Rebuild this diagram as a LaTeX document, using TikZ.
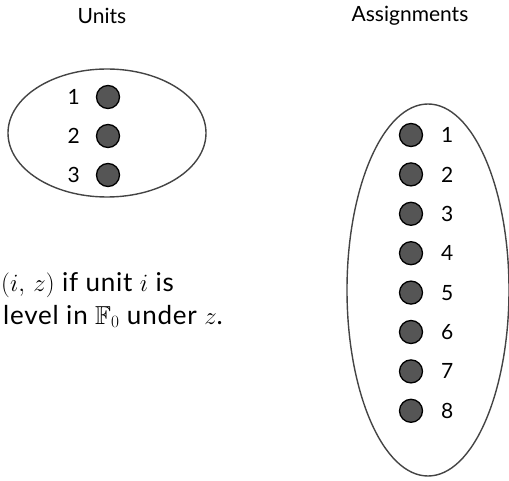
\documentclass[tikz,border=0pt]{standalone}
\usepackage{amssymb}
\usepackage{fontspec}
\setmainfont{Lato}
\usetikzlibrary{shapes.geometric}
\definecolor{dotgray}{HTML}{555555}
\definecolor{ringgray}{HTML}{444444}
\begin{document}
\begin{tikzpicture}[x=1pt,y=-1pt,
  dot/.style={circle, draw=black, fill=dotgray, line width=1.3pt,
              minimum size=23pt, inner sep=0pt},
  setshape/.style={ellipse, draw=ringgray, line width=1.4pt, inner sep=0pt},
  lbl/.style={font=\fontsize{21}{25}\selectfont, inner sep=0pt},
  title/.style={font=\fontsize{21}{25}\selectfont, inner sep=0pt},
  captext/.style={font=\fontsize{26}{31}\selectfont, inner sep=0pt},
  ]
\useasboundingbox (0,0) rectangle (509,481);

% column titles
\node[title] (tunits) at (102,16) {Units};
\node[title] (tassign) at (410,16) {Assignments};

% set of units
\node[setshape, minimum width=198pt, minimum height=128pt] (units) at (107,133) {};
\foreach \k/\y in {1/97,2/136,3/175}{
  \node[dot] (u\k) at (108,\y) {};
  \node[lbl, anchor=east] (ul\k) at (80,\y) {\k};
}

% set of assignments
\node[setshape, minimum width=162pt, minimum height=372pt] (assign) at (428,290) {};
\foreach \k in {1,...,8}{
  \pgfmathsetmacro{\yy}{135+39.4*(\k-1)}
  \node[dot] (a\k) at (411,\yy) {};
  \node[lbl, anchor=west] (al\k) at (441,\yy) {\k};
}

% caption fragment on the left (slightly tracked out)
\node[captext, anchor=base west] (cap1) at (1,292)
  {\addfontfeature{LetterSpace=3}$(i,\,z)$ if unit $i$ is};
\node[captext, anchor=base west] (cap2) at (3,324)
  {\addfontfeature{LetterSpace=3}level in $\mathbb{F}_0$ under $z$.};
\end{tikzpicture}
\end{document}
